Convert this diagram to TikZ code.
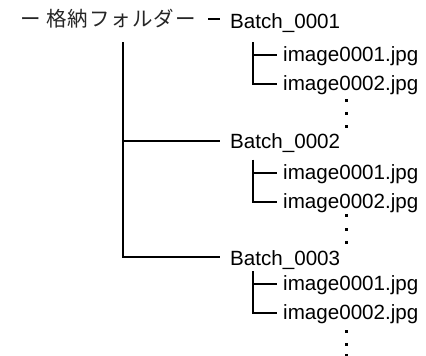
\documentclass[tikz,border=0pt]{standalone}
\usepackage{fontspec}
\setmainfont{Liberation Sans}
\newfontfamily\jpfont[LetterSpace=5]{Noto Sans CJK JP}
\usetikzlibrary{calc}
\begin{document}
\begin{tikzpicture}[x=1pt,y=-1pt,
  lbl/.style={anchor=base west,inner sep=0pt,font=\fontsize{20.6}{24}\selectfont},
  rootlbl/.style={anchor=base west,inner sep=0pt,text=black!85,font=\jpfont\fontsize{20.5}{24}\selectfont},
  tree/.style={line width=2pt,line join=miter},
  dotbox/.style={fill=black,minimum size=3pt,inner sep=0pt,draw=none}]
\useasboundingbox (0,0) rectangle (426,356);
% root
\node[rootlbl] (root) at (20,27) {ー 格納フォルダー};
% batches
\node[lbl] (b1) at (230,28.5) {Batch\_0001};
\node[lbl] (b2) at (230,148.5) {Batch\_0002};
\node[lbl] (b3) at (230,265) {Batch\_0003};
% images
\node[lbl] (i11) at (283,61) {image0001.jpg};
\node[lbl] (i12) at (283,90) {image0002.jpg};
\node[lbl] (i21) at (283,179) {image0001.jpg};
\node[lbl] (i22) at (283,208) {image0002.jpg};
\node[lbl] (i31) at (283,290) {image0001.jpg};
\node[lbl] (i32) at (283,319) {image0002.jpg};
% junction coordinates
\coordinate (top) at (123,42);
\coordinate (d1) at ($(b1.base west)+(-22,-10)$);
\coordinate (e1) at ($(b1.base west)+(-10,-10)$);
\coordinate (e2) at ($(b2.base west)+(-10,-8)$);
\coordinate (e3) at ($(b3.base west)+(-10,-8)$);
\coordinate (s1) at ($(b1.base west)+(23,13.5)$);
\coordinate (s2) at ($(b2.base west)+(23,11)$);
\coordinate (s3) at ($(b3.base west)+(23,6)$);
\foreach \g in {1,2,3}{
  \coordinate (l\g1) at ($(i\g1.base west)+(-6,-6)$);
  \coordinate (l\g2) at ($(i\g2.base west)+(-6,-6)$);
}
% main tree
\draw[tree] (d1) -- (e1);
\draw[tree] (top) |- (e3);
\draw[tree] (top |- e2) -- (e2);
% sub trees
\foreach \g in {1,2,3}{
  \draw[tree] (s\g) |- (l\g2);
  \draw[tree] (s\g |- l\g1) -- (l\g1);
}
% dots
\foreach \y in {100,113,126,215,229,242,331,344,355}{
  \node[dotbox] at (346.5,\y) {};
}
\end{tikzpicture}
\end{document}
